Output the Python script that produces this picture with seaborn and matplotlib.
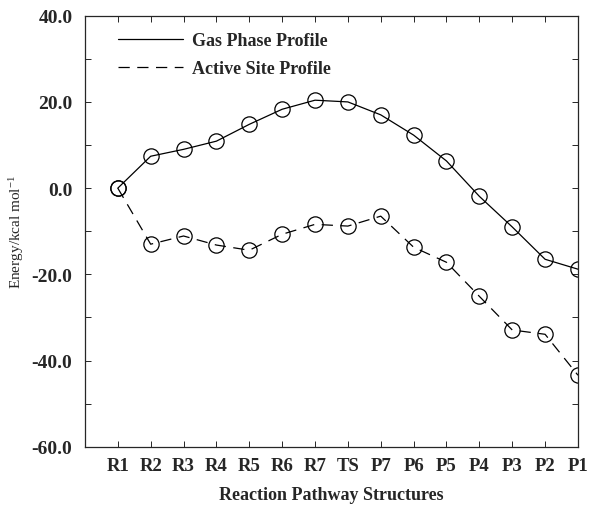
import matplotlib
matplotlib.use("Agg")
import matplotlib.pyplot as plt
from matplotlib.lines import Line2D
from matplotlib.ticker import MultipleLocator, FormatStrFormatter
import pandas as pd
import seaborn as sns

structures = ['R1', 'R2', 'R3', 'R4', 'R5', 'R6', 'R7', 'TS',
              'P7', 'P6', 'P5', 'P4', 'P3', 'P2', 'P1']
gas_phase = [0.0, 7.4, 9.0, 10.9, 14.8, 18.3, 20.4, 20.0,
             17.0, 12.3, 6.3, -1.9, -9.0, -16.5, -18.8]
active_site = [0.0, -13.0, -11.1, -13.2, -14.4, -10.7, -8.4, -8.8,
               -6.5, -13.7, -17.2, -25.1, -32.9, -33.9, -43.4]

df = pd.DataFrame({
    'pos': list(range(len(structures))) * 2,
    'energy': gas_phase + active_site,
    'profile': ['Gas Phase Profile'] * len(structures) + ['Active Site Profile'] * len(structures),
})

sns.set_style("ticks")
plt.rcParams['font.family'] = ['Liberation Serif', 'DejaVu Serif']
plt.rcParams['font.weight'] = 'bold'
plt.rcParams['mathtext.default'] = 'regular'

fig = plt.figure(figsize=(5.94, 5.06), dpi=100)
ax = fig.add_axes([0.143, 0.115, 0.830, 0.852])

dash = (9, 6)
sns.lineplot(data=df, x='pos', y='energy', style='profile',
             dashes={'Gas Phase Profile': '', 'Active Site Profile': dash},
             color='black', linewidth=0.9, marker='o', markersize=11,
             markerfacecolor='none', markeredgecolor='black', markeredgewidth=0.9,
             legend=False, ax=ax)

ax.set_xlim(-1, len(structures) - 1)
ax.set_ylim(-60, 40)
ax.set_xticks(range(len(structures)))
ax.set_xticklabels(structures, fontsize=13.5, fontweight='bold')
ax.yaxis.set_major_locator(MultipleLocator(20))
ax.yaxis.set_minor_locator(MultipleLocator(10))
ax.yaxis.set_major_formatter(FormatStrFormatter('%.1f'))
for lab in ax.get_yticklabels():
    lab.set_fontsize(14)
    lab.set_fontweight('bold')
ax.tick_params(axis='both', which='both', direction='in', top=True, right=True,
               length=4, width=0.7)
ax.tick_params(axis='y', pad=9)
ax.tick_params(axis='x', pad=7)
for s in ax.spines.values():
    s.set_linewidth(0.9)

ax.set_xlabel('Reaction Pathway Structures', fontsize=13, fontweight='bold', labelpad=9)
ax.set_ylabel('Energy/kcal mol$^{-1}$', fontsize=11, fontweight='normal', labelpad=4)

handles = [Line2D([], [], color='black', linewidth=0.9),
           Line2D([], [], color='black', linewidth=0.9, dashes=dash)]
ax.legend(handles, ['Gas Phase Profile', 'Active Site Profile'], frameon=False,
          loc='upper left', bbox_to_anchor=(0.035, 1.0), handlelength=3.6,
          handletextpad=0.5, labelspacing=0.62,
          prop={'family': 'Liberation Serif', 'weight': 'bold', 'size': 13})

fig.savefig('out.png', dpi=100)
